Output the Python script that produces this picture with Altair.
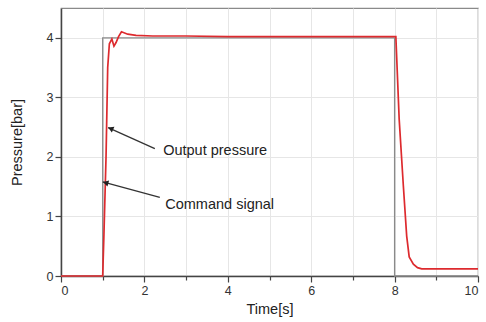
import altair as alt
import pandas as pd

# Command signal (step)
cmd_t = [0, 1, 1, 8, 8, 10]
cmd_p = [0, 0, 4, 4, 0, 0]

# Output pressure
out_t = [0, 0.5, 1.0, 1.03, 1.08, 1.12, 1.16, 1.22, 1.27, 1.32, 1.38, 1.45, 1.6, 1.8, 2.2, 3, 4, 5, 6, 7,
         8.03, 8.11, 8.21, 8.29, 8.35, 8.45, 8.55, 8.65, 9, 9.5, 10]
out_p = [0, 0, 0, 0.7, 2.0, 3.5, 3.9, 3.98, 3.86, 3.92, 4.02, 4.1, 4.06, 4.04, 4.03, 4.03, 4.02, 4.02, 4.02, 4.02,
         4.02, 2.63, 1.51, 0.67, 0.32, 0.2, 0.14, 0.12, 0.12, 0.12, 0.12]

# Annotations
ann_labels = ["Output pressure", "Command signal"]
ann_text_t = [2.45, 2.5]
ann_text_p = [2.10, 1.20]
ann_tip_t = [1.13, 1.0]
ann_tip_p = [2.49, 1.58]
ann_tail_t = [2.25, 2.37]
ann_tail_p = [2.14, 1.32]
ann_head_t = [1.19, 1.07]
ann_head_p = [2.475, 1.565]
ann_head_angle = [294, 285]

FONT = "Liberation Sans"

cmd_df = pd.DataFrame({"t": cmd_t, "p": cmd_p}).reset_index()
out_df = pd.DataFrame({"t": out_t, "p": out_p}).reset_index()
ann_df = pd.DataFrame({
    "label": ann_labels, "tx": ann_text_t, "ty": ann_text_p,
    "t": ann_tip_t, "p": ann_tip_p, "t2": ann_tail_t, "p2": ann_tail_p,
    "ht": ann_head_t, "hp": ann_head_p, "ang": ann_head_angle,
})

x_enc = alt.X("t:Q", scale=alt.Scale(domain=[0, 10], nice=False),
              axis=alt.Axis(values=list(range(0, 11)),
                            labelExpr="datum.value % 2 == 0 ? format(datum.value, 'd') : ''",
                            title="Time[s]", grid=True))
y_enc = alt.Y("p:Q", scale=alt.Scale(domain=[0, 4.5], nice=False),
              axis=alt.Axis(values=[i * 0.5 for i in range(0, 10)],
                            labelExpr="datum.value % 1 == 0 ? format(datum.value, 'd') : ''",
                            title="Pressure[bar]", grid=True))

cmd = alt.Chart(cmd_df).mark_line(color="#8a8a8a", strokeWidth=1.3).encode(
    x=x_enc, y=y_enc, order="index:Q")
out = alt.Chart(out_df).mark_line(color="#dd2a2e", strokeWidth=1.7).encode(
    x=x_enc, y=y_enc, order="index:Q")

arrows = alt.Chart(ann_df).mark_rule(color="#333333", strokeWidth=1.3).encode(
    x=x_enc, y=y_enc, x2="t2:Q", y2="p2:Q")
heads = alt.Chart(ann_df).mark_point(shape="triangle-up", filled=True, size=40, color="#222222", opacity=1).encode(
    x=alt.X("ht:Q"), y=alt.Y("hp:Q"), angle=alt.Angle("ang:Q", scale=None))
texts = alt.Chart(ann_df).mark_text(align="left", baseline="middle", font=FONT, fontSize=14.5, color="#222222").encode(
    x=alt.X("tx:Q"), y=alt.Y("ty:Q"), text="label:N")

chart = alt.layer(cmd, out, arrows, heads, texts).properties(
    width=417, height=268,
    autosize=alt.AutoSizeParams(type="none"),
    padding={"left": 61, "top": 8, "right": 8, "bottom": 46},
).configure_view(stroke="#8a8a8a", strokeWidth=1.2).configure_axis(
    domainColor="#444444", domainWidth=1.5, tickColor="#444444", tickWidth=1.2,
    tickSize={"condition": {"test": "datum.value % 1 == 0", "value": 6}, "value": 4},
    gridColor="#e6e6e6", gridWidth=1,
    labelFont=FONT, labelFontSize=12.5, labelColor="#333333", labelPadding=2,
    titleFont=FONT, titleFontSize=14.5, titleFontWeight="normal", titleColor="#222222",
).configure_axisX(
    tickSize={"condition": {"test": "datum.value % 2 == 0", "value": 6}, "value": 4},
    titlePadding=6,
).configure_axisY(titlePadding=22)

chart.save("out.html", embed_options={"renderer": "svg", "actions": False})
